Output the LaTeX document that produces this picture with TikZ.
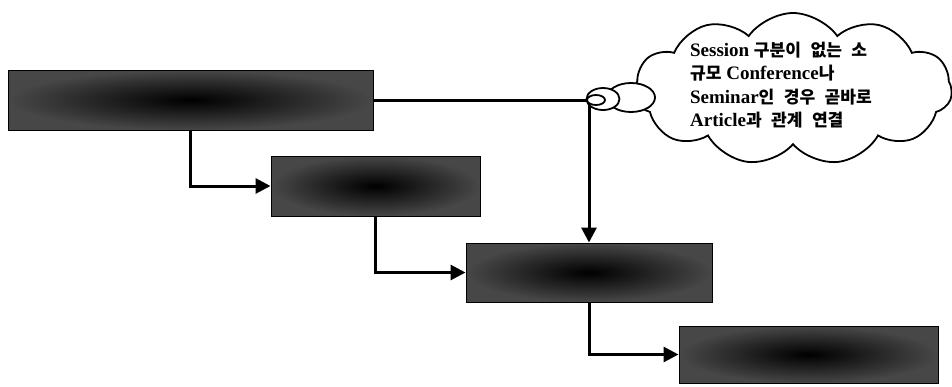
\documentclass[tikz,border=0pt]{standalone}
\usepackage{fontspec}
\setmainfont{Liberation Serif}
\newfontfamily\kr{Noto Sans CJK KR Bold}[Scale=0.9,WordSpace=2.4]
\usepackage{tikz}
\usetikzlibrary{positioning,%
  arrows.meta,%
  shapes.geometric,%
  shapes.symbols,%
  calc%
}

\begin{document}
\begin{tikzpicture}[x=1pt,y=-1pt,
    block/.style={draw=black,line width=1pt,inner color=black,outer color=black!72,minimum height=60pt,inner sep=0pt},
    link/.style={line width=3pt,-{Triangle[length=15pt,width=15pt]}},
    bubble/.style={draw,line width=1.8pt,fill=white,ellipse,inner sep=0pt}]
  \useasboundingbox (0,0) rectangle (952,386);

  % the four levels
  \node [block, minimum width=365pt] (conf) at (190.5,100) {};
  \node [block, minimum width=209pt] (sess) at (375.5,186) {};
  \node [block, minimum width=246pt, minimum height=59pt] (art) at (589,272.5) {};
  \node [block, minimum width=259pt, minimum height=57pt] (auth) at (808.5,354.5) {};

  \draw [link] (conf.south) |- (sess.west);
  \draw [link] (sess.south) |- (art.west);
  \draw [link] (art.south) |- (auth.west);

  % shortcut past the session level
  \coordinate (split) at (art.north |- conf.east);
  \draw [line width=3pt] (conf.east) -- (split);
  \draw [link] (split) -- (art.north);

  % callout
  \node [cloud, draw, line width=1.8pt, fill=white, cloud puffs=11, cloud puff arc=110,
    aspect=2.1, minimum width=318pt, minimum height=152pt] (callout) at (793,89) {};
  \node [bubble, minimum width=48pt, minimum height=29pt] (tail3) at (631,97.5) {};
  \node [bubble, minimum width=33pt, minimum height=22pt] (tail2) at (603,99) {};
  \node [bubble, minimum width=18pt, minimum height=10pt] (tail1) at (596,100) {};
  \node [align=left, font=\bfseries\fontsize{19}{23.5}\selectfont, inner sep=0pt] (note) at (781,85)
    {Session {\kr 구분이 없는 소}\\{\kr 규모} Conference{\kr 나}\\Seminar{\kr 인 경우 곧바로}\\Article{\kr 과 관계 연결}};
\end{tikzpicture}
\end{document}
